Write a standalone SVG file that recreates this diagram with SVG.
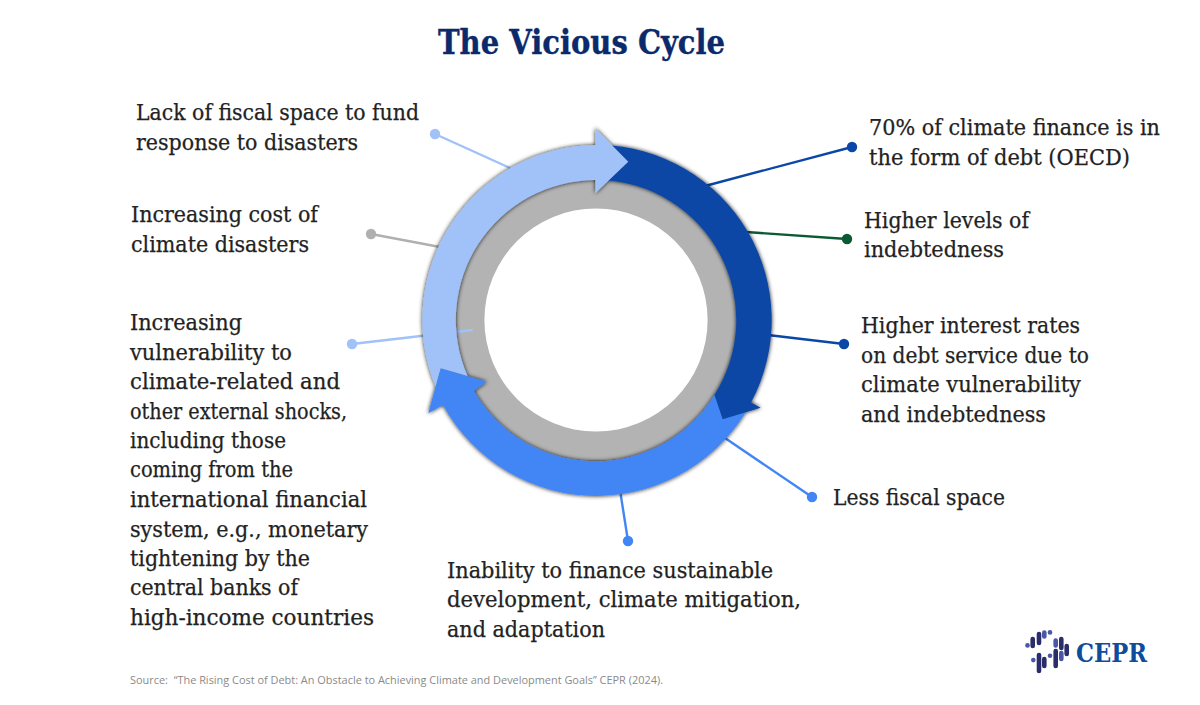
<svg xmlns="http://www.w3.org/2000/svg" width="1200" height="705" viewBox="0 0 1200 705">
<style>
.t{font-family:"DejaVu Serif","Liberation Serif",serif;font-size:21.5px;fill:#222;stroke:#222;stroke-width:.25}
.c{fill:none;stroke-width:2.4}
.lb{stroke:#a0c2f9}.lbf{fill:#a0c2f9}
.db{stroke:#0b47a6}.dbf{fill:#0b47a6}
.mb{stroke:#4285f4}.mbf{fill:#4285f4}
.gr{stroke:#b0b0b0}.grf{fill:#b0b0b0}
.gn{stroke:#0b5a34}.gnf{fill:#0b5a34}
.b{stroke-linecap:round;stroke-width:4.6;fill:none}
.n{stroke:#2a2c6c}.v{stroke:#4a56a6}
</style>
<defs>
<filter id="sh" x="-10%" y="-10%" width="120%" height="120%"><feDropShadow dx="0" dy="0" stdDeviation="2.2" flood-color="#000" flood-opacity="0.9"/></filter>
<filter id="soft" x="-5%" y="-5%" width="110%" height="110%"><feGaussianBlur stdDeviation="0.7"/></filter>
</defs>
<rect width="1200" height="705" fill="#fff"/>
<text id="title" x="438" y="54" textLength="287" lengthAdjust="spacingAndGlyphs" font-family="'DejaVu Serif','Liberation Serif',serif" font-weight="700" font-size="34" fill="#0b2a6b" stroke="#0b2a6b" stroke-width=".4">The Vicious Cycle</text>

<g id="ring-base"><circle cx="596" cy="320" r="125.8" fill="none" stroke="#b3b3b3" stroke-width="28.6" filter="url(#sh)"/><circle cx="596" cy="320" r="111.6" fill="#fff" filter="url(#soft)"/></g>

<g id="connectors">
<line class="c lb" x1="435" y1="134" x2="510" y2="168"/>
<line class="c gr" x1="371" y1="234" x2="440" y2="247"/>
<line class="c lb" x1="352" y1="344" x2="472.7" y2="330"/>
<line class="c mb" x1="628" y1="541" x2="620" y2="490"/>
<line class="c mb" x1="812" y1="497" x2="725" y2="438"/>
<line class="c db" x1="844" y1="344" x2="768" y2="335"/>
<line class="c gn" x1="847" y1="239" x2="746" y2="232"/>
<line class="c db" x1="852" y1="147" x2="705" y2="186"/>
</g>

<g id="cycle-arrows" filter="url(#sh)">
<path class="mbf" d="M751 403 A175 175 0 0 1 443 405 L428.3 413.3 L440.7 368.3 L486.7 381.7 L474 391 A140 140 0 0 0 714.5 395 Z"/>
<path class="dbf" d="M600 145 A175 175 0 0 1 751 402.5 L760.7 407.7 L722.7 419.3 L710 381.7 L714.5 395 A140 140 0 0 0 600 180 Z"/>
<path class="lbf" d="M435.5 386.5 L440.7 368.3 L467.5 376 A140 140 0 0 1 595.3 180 L595.3 193.3 L628.3 161.7 L595.3 128.3 L595.3 145 A175 175 0 0 0 435.5 386.5 Z"/>
</g>

<g id="node-fiscal-response"><circle class="lbf" cx="435" cy="134" r="5.2"/>
<text class="t" x="136" y="120" textLength="283" lengthAdjust="spacingAndGlyphs">Lack of fiscal space to fund</text>
<text class="t" x="136" y="150" textLength="222" lengthAdjust="spacingAndGlyphs">response to disasters</text></g>

<g id="node-disaster-cost"><circle class="grf" cx="371" cy="234" r="5.2"/>
<text class="t" x="131" y="222" textLength="187" lengthAdjust="spacingAndGlyphs">Increasing cost of</text>
<text class="t" x="131" y="252" textLength="178" lengthAdjust="spacingAndGlyphs">climate disasters</text></g>

<g id="node-vulnerability"><circle class="lbf" cx="352" cy="344" r="5.2"/>
<text class="t" x="130" y="330" textLength="112" lengthAdjust="spacingAndGlyphs">Increasing</text>
<text class="t" x="130" y="360" textLength="162" lengthAdjust="spacingAndGlyphs">vulnerability to</text>
<text class="t" x="130" y="389" textLength="210" lengthAdjust="spacingAndGlyphs">climate-related and</text>
<text class="t" x="130" y="419" textLength="217" lengthAdjust="spacingAndGlyphs">other external shocks,</text>
<text class="t" x="130" y="448" textLength="156" lengthAdjust="spacingAndGlyphs">including those</text>
<text class="t" x="130" y="477" textLength="163" lengthAdjust="spacingAndGlyphs">coming from the</text>
<text class="t" x="130" y="507" textLength="237" lengthAdjust="spacingAndGlyphs">international financial</text>
<text class="t" x="130" y="537" textLength="238" lengthAdjust="spacingAndGlyphs">system, e.g., monetary</text>
<text class="t" x="130" y="566" textLength="180" lengthAdjust="spacingAndGlyphs">tightening by the</text>
<text class="t" x="130" y="595" textLength="168" lengthAdjust="spacingAndGlyphs">central banks of</text>
<text class="t" x="130" y="625" textLength="244" lengthAdjust="spacingAndGlyphs">high-income countries</text></g>

<g id="node-climate-finance"><circle class="dbf" cx="852" cy="147" r="5.2"/>
<text class="t" x="869" y="135" textLength="291" lengthAdjust="spacingAndGlyphs">70% of climate finance is in</text>
<text class="t" x="869" y="165" textLength="261" lengthAdjust="spacingAndGlyphs">the form of debt (OECD)</text></g>

<g id="node-indebtedness"><circle class="gnf" cx="847" cy="239" r="5.2"/>
<text class="t" x="864" y="228" textLength="165" lengthAdjust="spacingAndGlyphs">Higher levels of</text>
<text class="t" x="864" y="257" textLength="140" lengthAdjust="spacingAndGlyphs">indebtedness</text></g>

<g id="node-interest"><circle class="dbf" cx="844" cy="344" r="5.2"/>
<text class="t" x="861" y="333" textLength="219" lengthAdjust="spacingAndGlyphs">Higher interest rates</text>
<text class="t" x="861" y="363" textLength="228" lengthAdjust="spacingAndGlyphs">on debt service due to</text>
<text class="t" x="861" y="392" textLength="220" lengthAdjust="spacingAndGlyphs">climate vulnerability</text>
<text class="t" x="861" y="422" textLength="185" lengthAdjust="spacingAndGlyphs">and indebtedness</text></g>

<g id="node-less-fiscal"><circle class="mbf" cx="812" cy="497" r="5.2"/>
<text class="t" x="833" y="505" textLength="172" lengthAdjust="spacingAndGlyphs">Less fiscal space</text></g>

<g id="node-inability"><circle class="mbf" cx="628" cy="541" r="5.2"/>
<text class="t" x="447" y="578" textLength="326" lengthAdjust="spacingAndGlyphs">Inability to finance sustainable</text>
<text class="t" x="447" y="607" textLength="354" lengthAdjust="spacingAndGlyphs">development, climate mitigation,</text>
<text class="t" x="447" y="637" textLength="158" lengthAdjust="spacingAndGlyphs">and adaptation</text></g>

<text id="source" x="130" y="684" textLength="533" lengthAdjust="spacingAndGlyphs" font-family="'Open Sans','Liberation Sans',sans-serif" font-size="10.8" fill="#8a8a8a">Source:&#160;&#160;“The Rising Cost of Debt: An Obstacle to Achieving Climate and Development Goals” CEPR (2024).</text>

<g id="cepr-logo">
<path class="b v" d="M1027.5 645.3v.1"/>
<path class="b n" d="M1032.7 639v7"/>
<path class="b n" d="M1039 634v9"/>
<path class="b v" d="M1044.3 632.5v4"/>
<path class="b v" d="M1050 632.3v.1"/>
<path class="b v" d="M1055.7 640.5v5"/>
<path class="b n" d="M1061.3 639v9"/>
<path class="b n" d="M1066.7 646v8"/>
<path class="b v" d="M1033.3 660v.1"/>
<path class="b n" d="M1039 655v16"/>
<path class="b n" d="M1044.3 659v7"/>
<path class="b v" d="M1050 655.7v.1"/>
<path class="b n" d="M1055.7 651v15"/>
<path class="b v" d="M1061.3 653v6"/>
<text x="1076" y="662" textLength="71" lengthAdjust="spacingAndGlyphs" font-family="'DejaVu Serif','Liberation Serif',serif" font-weight="700" font-size="26" fill="#0f4c9c">CEPR</text>
</g>
</svg>
